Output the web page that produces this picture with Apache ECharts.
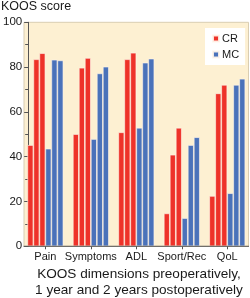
<!DOCTYPE html>
<html>
<head>
<meta charset="utf-8">
<script src="https://cdn.jsdelivr.net/npm/echarts@6/dist/echarts.min.js"></script>
<style>
  html, body { margin: 0; padding: 0; background: #fff; }
  #chart { width: 250px; height: 298px; }
</style>
</head>
<body>
<div id="chart"></div>
<script>
// KOOS scores per dimension: preop, 1 year, 2 years
var categories = ['Pain', 'Symptoms', 'ADL', 'Sport/Rec', 'QoL'];
var crPre = [45.2, 50.1, 50.9, 14.7, 22.5];
var cr1y = [83.5, 79.7, 83.5, 40.9, 68.3];
var cr2y = [86.2, 84.1, 86.4, 52.9, 72.1];
var mcPre = [43.6, 47.9, 52.9, 12.6, 23.7];
var mc1y = [83.3, 77.2, 82.0, 45.2, 72.1];
var mc2y = [83.0, 80.2, 83.8, 48.7, 74.8];

var RED = '#ee3229';
var BLUE = '#4a72ba';
var FONT = 'Liberation Sans';

function bars(name, data, color) {
    return {
        name: name,
        type: 'bar',
        data: data,
        barWidth: 6,
        barGap: 0,
        itemStyle: { color: color, borderColor: 'rgba(255,245,235,0.9)', borderWidth: 0.7 }
    };
}

var chart = echarts.init(document.getElementById('chart'), null, { renderer: 'canvas' });
chart.setOption({
    animation: false,
    textStyle: { fontFamily: FONT },
    grid: { left: 18.45, right: -3.95, top: 22.3, bottom: 51.7, containLabel: false },
    graphic: [
        {
            type: 'rect', z: -10,
            shape: { x: 24, y: 22.3, width: 224.5, height: 224 },
            style: { fill: '#fdf0d2', stroke: '#d9cdb2', lineWidth: 1 }
        },
        {
            type: 'line', z: 10,
            shape: { x1: 23.5, y1: 246.3, x2: 249, y2: 246.3 },
            style: { stroke: '#555', lineWidth: 1 }
        },
        {
            type: 'text', left: 1, top: 0,
            style: { text: 'KOOS score', fontSize: 12.5, fontFamily: FONT, fill: '#1a1a1a' }
        },
        {
            type: 'text', x: 139, y: 274,
            style: { text: 'KOOS dimensions preoperatively,', fontSize: 13.6, fontFamily: FONT, fill: '#1a1a1a', align: 'center', verticalAlign: 'middle' }
        },
        {
            type: 'text', x: 139, y: 290.5,
            style: { text: '1 year and 2 years postoperatively', fontSize: 13.6, fontFamily: FONT, fill: '#1a1a1a', align: 'center', verticalAlign: 'middle' }
        }
    ],
    legend: {
        data: ['CR', 'MC'],
        orient: 'vertical',
        left: 205, top: 28,
        backgroundColor: '#ffffff',
        padding: [5, 6, 5, 7],
        itemWidth: 6, itemHeight: 6, itemGap: 5,
        icon: 'rect',
        textStyle: { fontSize: 11, fontFamily: FONT, color: '#1a1a1a', padding: [0, 0, 0, -2] }
    },
    xAxis: {
        type: 'category',
        data: categories,
        axisLine: { show: false },
        axisTick: { show: true, alignWithLabel: true, length: 3, lineStyle: { color: '#555' } },
        axisLabel: { interval: 0, color: '#1a1a1a', fontSize: 11, fontFamily: FONT, margin: 5 },
        splitLine: { show: false }
    },
    yAxis: {
        type: 'value',
        min: 0, max: 100, interval: 20,
        offset: -5.55,
        axisLine: { show: true, lineStyle: { color: '#555' } },
        axisTick: { show: true, length: 4, lineStyle: { color: '#555' } },
        minorTick: { show: true, splitNumber: 2, length: 3, lineStyle: { color: '#555' } },
        axisLabel: { color: '#1a1a1a', fontSize: 11.5, fontFamily: FONT, margin: 6 },
        splitLine: { show: false }
    },
    series: [
        bars('CR', crPre, RED),
        bars('CR', cr1y, RED),
        bars('CR', cr2y, RED),
        bars('MC', mcPre, BLUE),
        bars('MC', mc1y, BLUE),
        bars('MC', mc2y, BLUE)
    ]
});
</script>
</body>
</html>
